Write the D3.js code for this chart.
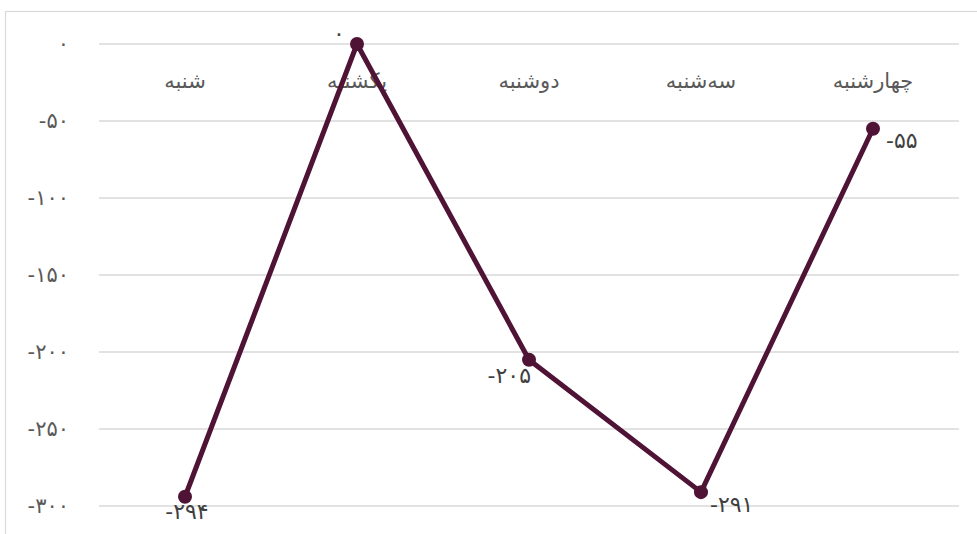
<!DOCTYPE html>
<html>
<head>
<meta charset="utf-8">
<script src="https://cdn.jsdelivr.net/npm/d3@7"></script>
<style>
    html, body { margin: 0; padding: 0; background: #fff; }
    #chart { width: 977px; height: 534px; }
    text { font-family: "DejaVu Sans", sans-serif; }
</style>
</head>
<body>
<div id="chart"></div>
<script>
// days of the week (Persian)
const days = ["شنبه", "یکشنبه", "دوشنبه", "سه‌شنبه", "چهارشنبه"];
const values = [-294, 0, -205, -291, -55];
const yTicks = [0, -50, -100, -150, -200, -250, -300];
// where each data label sits relative to its point
const labelPlace = ["below", "above-left", "below-left", "below-right", "right"];

const faDigits = "۰۱۲۳۴۵۶۷۸۹";
function toFa(n) {
    return String(n).replace(/[0-9]/g, d => faDigits[+d]);
}

function drawChart() {
    const width = 977, height = 534;
    const margin = { top: 44, right: 18, bottom: 28, left: 99 };

    const svg = d3.select("#chart")
        .append("svg")
        .attr("width", width)
        .attr("height", height);

    // chart frame
    svg.append("rect")
        .attr("x", 5.5)
        .attr("y", 11.5)
        .attr("width", width + 10)
        .attr("height", height + 10)
        .attr("fill", "none")
        .attr("stroke", "#d9d9d9")
        .attr("stroke-width", 1.2);

    const x = d3.scalePoint()
        .domain(days)
        .range([margin.left, width - margin.right])
        .padding(0.5);

    const y = d3.scaleLinear()
        .domain([-300, 0])
        .range([height - margin.bottom, margin.top]);

    // grid lines
    svg.append("g")
        .selectAll("line")
        .data(yTicks)
        .join("line")
        .attr("x1", margin.left)
        .attr("x2", width - margin.right)
        .attr("y1", d => y(d))
        .attr("y2", d => y(d))
        .attr("stroke", "#d9d9d9")
        .attr("stroke-width", 1.5);

    // Y axis labels
    const yAxis = svg.append("g")
        .attr("transform", `translate(${margin.left - 30},0)`)
        .call(d3.axisLeft(y).tickValues(yTicks).tickFormat(toFa).tickSize(0).tickPadding(0));
    yAxis.select(".domain").remove();
    yAxis.selectAll("text")
        .attr("fill", "#595959")
        .style("font-size", "21px");

    // category labels under the zero line
    svg.append("g")
        .selectAll("text")
        .data(days)
        .join("text")
        .attr("x", d => x(d))
        .attr("y", y(0) + 44)
        .attr("text-anchor", "middle")
        .attr("fill", "#595959")
        .style("font-size", "21px")
        .text(d => d);

    const pts = days.map((d, i) => ({ day: d, value: values[i], place: labelPlace[i] }));

    const line = d3.line()
        .x(d => x(d.day))
        .y(d => y(d.value));

    svg.append("path")
        .datum(pts)
        .attr("fill", "none")
        .attr("stroke", "#4f1336")
        .attr("stroke-width", 5)
        .attr("stroke-linejoin", "round")
        .attr("d", line);

    svg.append("g")
        .selectAll("circle")
        .data(pts)
        .join("circle")
        .attr("cx", d => x(d.day))
        .attr("cy", d => y(d.value))
        .attr("r", 7)
        .attr("fill", "#4f1336");

    // data labels
    const off = {
        "below": { dx: 2, dy: 22, anchor: "middle" },
        "above-left": { dx: -18, dy: -3, anchor: "middle" },
        "below-left": { dx: 2, dy: 23, anchor: "end" },
        "below-right": { dx: 9, dy: 20, anchor: "start" },
        "right": { dx: 13, dy: 19, anchor: "start" }
    };
    svg.append("g")
        .selectAll("text")
        .data(pts)
        .join("text")
        .attr("x", d => x(d.day) + off[d.place].dx)
        .attr("y", d => y(d.value) + off[d.place].dy)
        .attr("text-anchor", d => off[d.place].anchor)
        .attr("fill", "#404040")
        .style("font-size", "22px")
        .text(d => toFa(d.value));
}

drawChart();
</script>
</body>
</html>
